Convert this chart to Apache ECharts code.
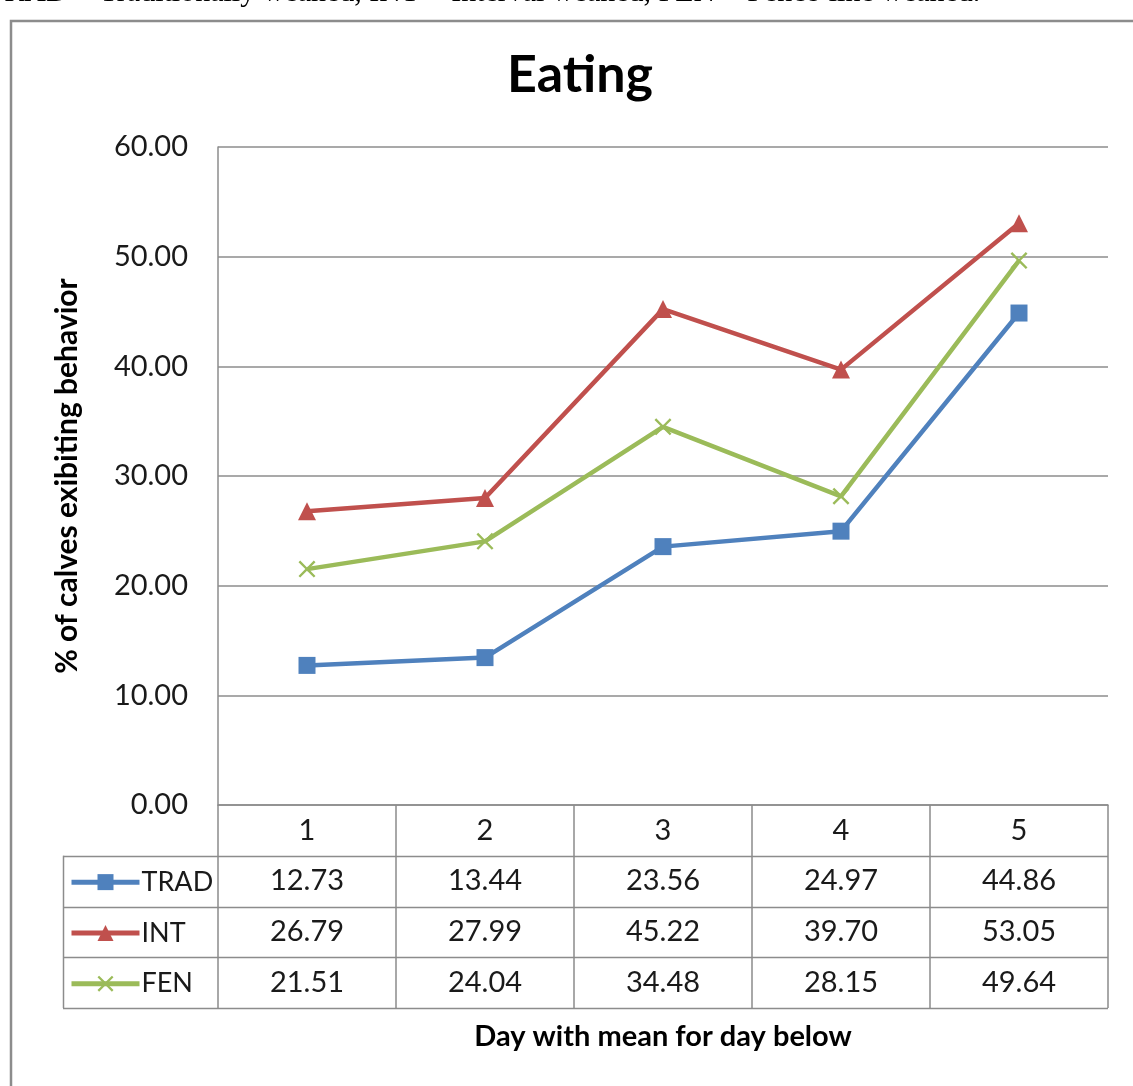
<!DOCTYPE html>
<html>
<head>
<meta charset="utf-8">
<script src="https://cdn.jsdelivr.net/npm/echarts@6/dist/echarts.min.js"></script>
<style>
  html, body { margin: 0; padding: 0; background: #fff; }
  #chart { width: 1133px; height: 1086px; }
</style>
</head>
<body>
<div id="chart"></div>
<script>
var days = ['1', '2', '3', '4', '5'];
var trad = [12.73, 13.44, 23.56, 24.97, 44.86];
var int_ = [26.79, 27.99, 45.22, 39.70, 53.05];
var fen = [21.51, 24.04, 34.48, 28.15, 49.64];
var seriesNames = ['TRAD', 'INT', 'FEN'];
var yTicks = [0, 60, 10]; // min, max, step

var FONT = 'Lato';
var GRAY = '#8c8c8c';
var colors = ['#4F81BD', '#C0504D', '#9BBB59'];
var crossPath = 'path://M0,1L1,0L5,4L9,0L10,1L6,5L10,9L9,10L5,6L1,10L0,9L4,5Z';

// layout of plot + data table
var gL = 218, gT = 147, gR = 1108, gB = 805;
var rowH = 50.75;
var tableLeft = 63;

var fmt = function (v) { return v.toFixed(2); };

var myChart = echarts.init(document.getElementById('chart'));

// horizontal lines of the data table
var tableLines = [];
for (var r = 1; r <= 4; r++) {
    var y = Math.round(gB + r * rowH) + 0.5;
    tableLines.push({
        type: 'line', silent: true,
        shape: { x1: tableLeft, y1: y, x2: gR, y2: y },
        style: { stroke: GRAY, lineWidth: 1.5 }
    });
}
tableLines.push({
    type: 'line', silent: true,
    shape: { x1: tableLeft + 0.5, y1: gB + rowH, x2: tableLeft + 0.5, y2: gB + 4 * rowH },
    style: { stroke: GRAY, lineWidth: 1.5 }
});

var legends = seriesNames.map(function (n, i) {
    return {
        data: [n],
        left: 64,
        top: gB + (i + 1.5) * rowH - 19,
        itemWidth: 68,
        itemHeight: 20,
        selectedMode: false,
        lineStyle: { width: 5 },
        textStyle: { fontFamily: FONT, fontSize: 27, color: '#1a1a1a', lineHeight: 30, padding: [0, 0, 0, -3] }
    };
});

var valueAxes = [trad, int_, fen].map(function (arr, i) {
    return {
        type: 'category',
        gridIndex: 0,
        position: 'bottom',
        offset: (i + 1) * rowH,
        data: arr.map(fmt),
        axisLine: { show: false },
        axisTick: { show: false },
        axisLabel: {
            margin: rowH / 2, verticalAlign: 'middle',
            fontFamily: FONT, fontSize: 29, color: '#1a1a1a'
        }
    };
});

var option = {
    animation: false,
    title: {
        text: 'Eating',
        left: 575, top: 44, textAlign: 'center',
        textStyle: { fontFamily: FONT, fontSize: 52, fontWeight: 'bold', color: '#000' }
    },
    legend: legends,
    grid: { left: gL, top: gT, right: 1133 - gR, bottom: 1086 - gB },
    xAxis: [{
        type: 'category',
        data: days,
        name: 'Day with mean for day below',
        nameLocation: 'middle',
        nameGap: 217,
        nameTextStyle: { fontFamily: FONT, fontSize: 29, fontWeight: 'bold', color: '#000' },
        axisLine: { lineStyle: { color: GRAY, width: 1.5 } },
        axisTick: { show: true, length: 4 * rowH, lineStyle: { color: GRAY, width: 1.5 } },
        axisLabel: {
            margin: rowH / 2, verticalAlign: 'middle',
            fontFamily: FONT, fontSize: 29, color: '#1a1a1a'
        }
    }].concat(valueAxes),
    yAxis: {
        type: 'value',
        min: yTicks[0], max: yTicks[1], interval: yTicks[2],
        name: '% of calves exibiting behavior',
        nameLocation: 'middle',
        nameGap: 136,
        nameTextStyle: { fontFamily: FONT, fontSize: 30, fontWeight: 'bold', color: '#000' },
        axisLine: { show: true, lineStyle: { color: GRAY, width: 1.5 } },
        axisTick: { show: false },
        splitLine: { lineStyle: { color: GRAY, width: 1.5 } },
        axisLabel: {
            margin: 30, formatter: fmt,
            fontFamily: FONT, fontSize: 29, color: '#1a1a1a'
        }
    },
    series: [
        { name: 'TRAD', type: 'line', data: trad, symbol: 'rect', symbolSize: 17 },
        { name: 'INT', type: 'line', data: int_, symbol: 'triangle', symbolSize: 18 },
        { name: 'FEN', type: 'line', data: fen, symbol: crossPath, symbolSize: 17 }
    ].map(function (s, i) {
        s.color = colors[i];
        s.lineStyle = { width: 4.5, color: colors[i] };
        s.itemStyle = { color: colors[i] };
        return s;
    }),
    graphic: [
        {
            type: 'text', silent: true, left: -14, top: -22,
            style: {
                text: 'TRAD = Traditionally weaned, INT = Interval weaned, FEN = Fence-line weaned.',
                font: '30px "Liberation Serif"', fill: '#000'
            }
        },
        {
            type: 'rect', silent: true,
            shape: { x: 11, y: 21, width: 1200, height: 1200 },
            style: { fill: 'none', stroke: GRAY, lineWidth: 2.5 }
        }
    ].concat(tableLines)
};
myChart.setOption(option);
</script>
</body>
</html>
